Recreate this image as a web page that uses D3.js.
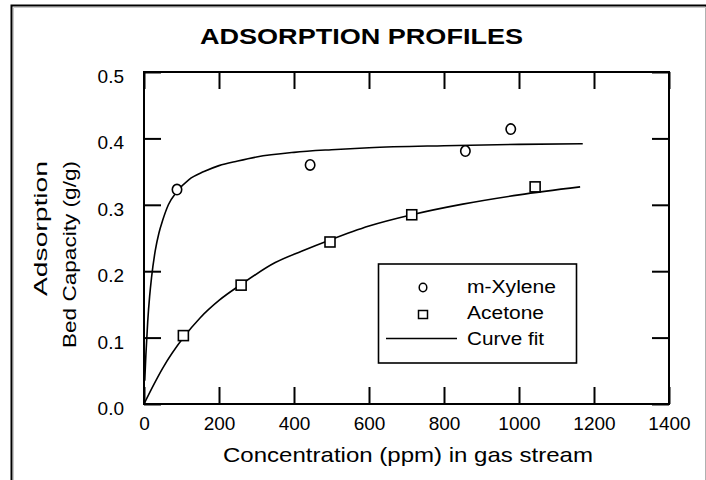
<!DOCTYPE html>
<html><head><meta charset="utf-8">
<script src="https://cdn.jsdelivr.net/npm/d3@7"></script>
<style>body{margin:0;background:#fff;}svg{display:block;}text{font-family:"Liberation Sans",Arial,sans-serif;fill:#000;}</style>
</head><body>
<svg id="c" width="706" height="480"></svg>
<script>
const titleText = "ADSORPTION PROFILES";
const xLabel = "Concentration (ppm) in gas stream";
const yLabelLines = ["Adsorption", "Bed Capacity (g/g)"];
const xTicks = [0, 200, 400, 600, 800, 1000, 1200, 1400];
const yTicks = [0.0, 0.1, 0.2, 0.3, 0.4, 0.5];
const xyleneX = [88, 443, 857, 978];
const xyleneY = [0.323, 0.360, 0.381, 0.414];
const acetoneX = [105, 259, 496, 714, 1043];
const acetoneY = [0.103, 0.179, 0.244, 0.285, 0.327];
const xyleneFitX = [2, 5, 10, 15, 20, 30, 40, 50, 65, 88, 120, 160, 200, 250, 300, 400, 500, 600, 800, 1000, 1170];
const xyleneFitY = [0.035, 0.074, 0.125, 0.162, 0.19, 0.231, 0.258, 0.277, 0.3, 0.32, 0.338, 0.35, 0.359, 0.366, 0.372, 0.379, 0.383, 0.386, 0.389, 0.391, 0.392];
const acetoneFitX = [0, 25, 50, 105, 150, 200, 259, 350, 420, 496, 600, 714, 850, 1000, 1163];
const acetoneFitY = [0, 0.028, 0.054, 0.10, 0.13, 0.156, 0.18, 0.213, 0.23, 0.247, 0.268, 0.285, 0.301, 0.315, 0.327];
const legendLabels = ["m-Xylene", "Acetone", "Curve fit"];

const svg = d3.select("#c");
// outer frame
svg.append("line").attr("x1", 705.5).attr("x2", 705.5).attr("y1", 5).attr("y2", 480).attr("stroke", "#b0b0b0").attr("stroke-width", 1);
svg.append("path").attr("d", "M11.5,480 V5.5 H706").attr("fill", "none").attr("stroke", "#000").attr("stroke-width", 2);
svg.append("path").attr("d", "M13.5,480 V7.5 H706").attr("fill", "none").attr("stroke", "#c8c8c8").attr("stroke-width", 1);

const x = d3.scaleLinear().domain([0, 1400]).range([144, 669]);
const y = d3.scaleLinear().domain([0, 0.5]).range([404, 72]);

svg.append("text").attr("x", 361.5).attr("y", 43.5).attr("text-anchor", "middle")
  .attr("font-size", 22).attr("font-weight", "bold")
  .attr("textLength", 323).attr("lengthAdjust", "spacingAndGlyphs").text(titleText);

const tk = 17;
const gB = svg.append("g").attr("transform", `translate(0,${y(0)})`)
  .call(d3.axisBottom(x).tickValues(xTicks).tickSizeInner(-tk).tickSizeOuter(0).tickPadding(13).tickFormat(d3.format("d")));
const gT = svg.append("g").attr("transform", `translate(0,${y(0.5)})`)
  .call(d3.axisTop(x).tickValues(xTicks).tickSizeInner(-tk).tickSizeOuter(0).tickFormat(""));
const gL = svg.append("g").attr("transform", `translate(${x(0)},0)`)
  .call(d3.axisLeft(y).tickValues(yTicks).tickSizeInner(-tk).tickSizeOuter(0).tickPadding(20).tickFormat(d3.format(".1f")));
const gR = svg.append("g").attr("transform", `translate(${x(1400)},0)`)
  .call(d3.axisRight(y).tickValues(yTicks).tickSizeInner(-tk).tickSizeOuter(0).tickFormat(""));
[gB, gT, gL, gR].forEach(g => {
  g.select(".domain").remove();
  g.selectAll(".tick line").attr("stroke", "#000").attr("stroke-width", 2);
  g.selectAll("text").attr("font-size", 19).attr("font-family", "Liberation Sans, Arial, sans-serif").attr("fill", "#000");
});
gL.selectAll("text").attr("dy", "0.55em");

svg.append("rect").attr("x", x(0)).attr("y", y(0.5)).attr("width", x(1400) - x(0)).attr("height", y(0) - y(0.5))
  .attr("fill", "none").attr("stroke", "#000").attr("stroke-width", 2);

svg.append("text").attr("x", 408).attr("y", 462).attr("text-anchor", "middle").attr("font-size", 21)
  .attr("textLength", 370).attr("lengthAdjust", "spacingAndGlyphs").text(xLabel);

const yl = [{t: yLabelLines[0], bx: 47, len: 135}, {t: yLabelLines[1], bx: 76, len: 187}];
yl.forEach(d => {
  svg.append("text").attr("transform", `translate(${d.bx},161) rotate(-90)`).attr("text-anchor", "end")
    .attr("font-size", 18.5).attr("textLength", d.len).attr("lengthAdjust", "spacingAndGlyphs").text(d.t);
});

const line = d3.line().x(d => x(d[0])).y(d => y(d[1])).curve(d3.curveMonotoneX);
svg.append("path").datum(xyleneFitX.map((v, i) => [v, xyleneFitY[i]])).attr("d", line)
  .attr("fill", "none").attr("stroke", "#000").attr("stroke-width", 1.6);
svg.append("path").datum(acetoneFitX.map((v, i) => [v, acetoneFitY[i]])).attr("d", line)
  .attr("fill", "none").attr("stroke", "#000").attr("stroke-width", 1.6);

svg.selectAll("circle.xy").data(xyleneX.map((v, i) => [v, xyleneY[i]])).enter().append("ellipse")
  .attr("cx", d => x(d[0])).attr("cy", d => y(d[1])).attr("rx", 4.7).attr("ry", 5.2)
  .attr("fill", "#fff").attr("stroke", "#000").attr("stroke-width", 1.6);
svg.selectAll("rect.ac").data(acetoneX.map((v, i) => [v, acetoneY[i]])).enter().append("rect")
  .attr("x", d => x(d[0]) - 5).attr("y", d => y(d[1]) - 5).attr("width", 10).attr("height", 10)
  .attr("fill", "#fff").attr("stroke", "#000").attr("stroke-width", 1.6);

// legend
const lg = svg.append("g");
lg.append("rect").attr("x", 378.5).attr("y", 264).attr("width", 198).attr("height", 99)
  .attr("fill", "#fff").attr("stroke", "#000").attr("stroke-width", 1.6);
lg.append("ellipse").attr("cx", 423).attr("cy", 287.5).attr("rx", 3.8).attr("ry", 4.2).attr("fill", "#fff").attr("stroke", "#000").attr("stroke-width", 1.5);
lg.append("rect").attr("x", 418.5).attr("y", 310.5).attr("width", 9).attr("height", 8).attr("fill", "#fff").attr("stroke", "#000").attr("stroke-width", 1.5);
lg.append("line").attr("x1", 386).attr("x2", 457).attr("y1", 338.5).attr("y2", 338.5).attr("stroke", "#000").attr("stroke-width", 1.6);
const lgY = [293, 318.5, 345], lgLen = [89, 77, 77];
legendLabels.forEach((t, i) => {
  lg.append("text").attr("x", 467).attr("y", lgY[i]).attr("font-size", 18)
    .attr("textLength", lgLen[i]).attr("lengthAdjust", "spacingAndGlyphs").text(t);
});
</script>
</body></html>
